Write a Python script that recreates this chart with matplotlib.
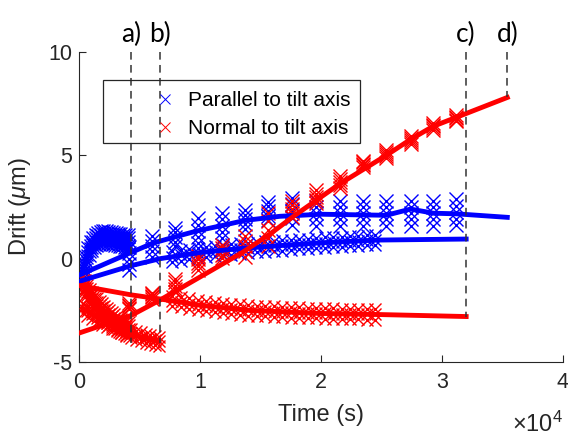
import matplotlib
matplotlib.use('Agg')
import matplotlib.pyplot as plt
import numpy as np
from matplotlib.lines import Line2D
from matplotlib.patches import Rectangle
from matplotlib.ticker import FuncFormatter

plt.rcParams['font.family'] = ['Liberation Sans', 'DejaVu Sans']
plt.rcParams['mathtext.fontset'] = 'custom'
plt.rcParams['mathtext.it'] = 'Liberation Sans:italic'
plt.rcParams['mathtext.rm'] = 'Liberation Sans'
plt.rcParams['axes.unicode_minus'] = False

# ---- run a: short dense run (blue cluster near 0..4300 s) ----
ta = [300, 500, 700, 900, 1100, 1300, 1500, 1700, 1900, 2100,
      2300, 2500, 2700, 2900, 3100, 3300, 3500, 3700, 3900, 4100]
blue_a = [-0.6, -0.2, 0.2, 0.5, 0.7, 0.85, 0.95, 1.0, 1.05, 1.05,
          1.05, 1.0, 1.0, 0.95, 0.95, 0.9, 0.9, 0.85, 0.85, 0.85]
red_a = [-1.2, -1.4, -1.6, -1.8, -1.95, -2.1, -2.25, -2.4, -2.5, -2.65,
         -2.75, -2.85, -2.95, -3.05, -3.1, -3.2, -3.25, -3.3, -3.35, -3.4]

# ---- run b: red drifting down until 6700 s ----
tb = [300, 700, 1100, 1500, 1900, 2300, 2700, 3100, 3500,
      3900, 4300, 4700, 5100, 5500, 5900, 6300, 6600]
red_b = [-2.4, -2.55, -2.7, -2.85, -3.0, -3.1, -3.2, -3.3, -3.4,
         -3.5, -3.6, -3.7, -3.78, -3.85, -3.9, -3.95, -4.0]

# ---- run c: long dense run (crosses to 24500 s, fit to 32000 s) ----
tc = [7700, 8400, 9100, 9800, 10500, 11200, 11900, 12600, 13300, 14000,
      14700, 15400, 16100, 16800, 17500, 18200, 18900, 19600, 20300, 21000,
      21700, 22400, 23100, 23800, 24500]
blue_c = [0.1, 0.16, 0.22, 0.28, 0.33, 0.37, 0.41, 0.45, 0.49, 0.53,
          0.56, 0.59, 0.62, 0.64, 0.67, 0.7, 0.72, 0.75, 0.78, 0.8,
          0.82, 0.85, 0.87, 0.89, 0.9]
red_c = [-2.05, -2.1, -2.17, -2.23, -2.29, -2.34, -2.38, -2.42, -2.46, -2.5,
         -2.52, -2.54, -2.56, -2.58, -2.6, -2.61, -2.62, -2.64, -2.65, -2.66,
         -2.67, -2.68, -2.69, -2.7, -2.7]
tc_fit = [0, 4300, 6700, 10000, 14100, 20000, 24600, 32000]
blue_c_fit = [-1.1, -0.34, 0.0, 0.3, 0.53, 0.77, 0.9, 0.95]
red_c_fit = [-1.3, -1.75, -1.95, -2.25, -2.5, -2.65, -2.7, -2.8]

# ---- run d: sparse columns every ~1950 s, fit to 35400 s ----
td = [4100, 6000, 7900, 9800, 11800, 13700, 15600, 17600, 19600,
      21600, 23500, 25400, 27400, 29300, 31200]
blue_d = [0.0, 0.6, 1.05, 1.35, 1.6, 1.9, 2.3, 2.3, 2.2,
          2.2, 2.2, 2.2, 2.2, 2.2, 2.25]
blue_d_half = [0.55, 0.5, 0.45, 0.6, 0.62, 0.45, 0.45, 0.65, 0.6,
               0.6, 0.6, 0.6, 0.6, 0.6, 0.62]
red_d = [-2.3, -1.8, -1.3, -0.2, 0.35, 0.6, 1.4, 2.4, 3.0,
         3.7, 4.6, 5.05, 5.75, 6.4, 6.8]
red_d_half = [0.15, 0.15, 0.3, 0.35, 0.3, 0.5, 0.8, 0.4, 0.3,
              0.3, 0.15, 0.2, 0.2, 0.15, 0.15]
td_fit = [0, 4300, 6100, 7900, 9800, 11800, 13700, 16600, 20000,
          25400, 27400, 29300, 31200, 35400]
blue_d_fit = [-0.8, 0.3, 0.75, 1.05, 1.35, 1.6, 1.85, 2.05, 2.15,
              2.1, 2.4, 2.2, 2.17, 2.0]
td_rfit = [0, 4300, 6700, 11000, 13500, 15800, 17850, 21500, 25400,
           27350, 29250, 31240, 35400]
red_d_fit = [-3.6, -2.75, -2.0, -0.55, 0.3, 1.2, 2.1, 3.6, 5.0,
             5.75, 6.4, 6.85, 7.8]

# event markers
ev_t = [4300, 6700, 32000, 35400]
ev_bottom = [-4.1, -4.1, -2.8, 7.8]
ev_lab = ['a)', 'b)', 'c)', 'd)']

fig = plt.figure(figsize=(5.68, 4.37), dpi=100)
ax = fig.add_axes([0.1391, 0.1716, 0.852, 0.7094])

ms = 9
mew = 1.0


def columns(t, y, half, frac, color, size=ms):
    for ti, yi, hi in zip(t, y, half):
        ys = [yi + hi * f for f in frac]
        ax.plot([ti] * len(ys), ys, 'x', color=color, ms=size, mew=mew,
                zorder=2)


frac5 = [-1, -0.5, 0, 0.5, 1]
frac3 = [-1, 0, 1]

# run a
columns(ta, blue_a, [0.35] * len(ta), frac5, 'b')
ax.plot(ta, blue_a, '-', color='b', lw=3.5, zorder=3)
columns(ta, red_a, [0.35] * len(ta), frac5, 'r')
ax.plot(ta, red_a, '-', color='r', lw=3.5, zorder=3)
# run b
columns(tb, red_b, [0.22] * len(tb), frac3, 'r')
ax.plot(tb, red_b, '-', color='r', lw=3.5, zorder=3)
# run c
columns(tc, blue_c, [0.25] * len(tc), frac3, 'b')
columns(tc, red_c, [0.25] * len(tc), frac3, 'r')
ax.plot(tc_fit, blue_c_fit, '-', color='b', lw=3.5, zorder=3)
ax.plot(tc_fit, red_c_fit, '-', color='r', lw=3.5, zorder=3)
# run d
columns(td, blue_d, blue_d_half, frac5, 'b', size=10)
columns(td, red_d, red_d_half, frac5, 'r', size=10)
ax.plot(td_fit, blue_d_fit, '-', color='b', lw=3.5, zorder=3)
ax.plot(td_rfit, red_d_fit, '-', color='r', lw=3.5, zorder=3)

# dashed event lines and labels
for t, yb, lab in zip(ev_t, ev_bottom, ev_lab):
    ax.plot([t, t], [10, yb], '--', color='#333333', lw=1.1,
            dashes=(5, 3.5), zorder=5, clip_on=False)
    ax.text(t, 10.87, lab, ha='center', va='center', fontsize=19,
            family=['Lato', 'DejaVu Sans'], clip_on=False)

ax.set_xlim(0, 40000)
ax.set_ylim(-5, 10)
ax.set_xticks([0, 10000, 20000, 30000, 40000])
ax.set_yticks([-5, 0, 5, 10])
ax.xaxis.set_major_formatter(FuncFormatter(lambda v, p: '%d' % round(v / 1e4)))

for s in ['top', 'right']:
    ax.spines[s].set_visible(False)
for s in ['left', 'bottom']:
    ax.spines[s].set_color('#262626')
    ax.spines[s].set_linewidth(0.8)
ax.tick_params(direction='in', length=5, width=0.8, color='#262626',
               labelcolor='#262626', labelsize=15.5)
ax.tick_params(axis='x', pad=7)
ax.tick_params(axis='y', pad=5)

ax.set_xlabel('Time (s)', fontsize=17, color='#262626')
ax.xaxis.set_label_coords(0.5, -0.135)
ax.set_ylabel(r'Drift ($\mu$m)', fontsize=17, color='#262626')
ax.yaxis.set_label_coords(-0.095, 0.5)
ax.text(1.0, -0.2, r'$\times$10$^4$', transform=ax.transAxes, ha='right',
        va='center', fontsize=17, color='#262626')

# legend
ax.add_patch(Rectangle((0.05, 0.706), 0.53, 0.204, transform=ax.transAxes,
                       fill=False, ec='#262626', lw=0.9, zorder=6,
                       clip_on=False))
handles = [Line2D([], [], color='b', marker='x', ls='none', ms=7, mew=0.7),
           Line2D([], [], color='r', marker='x', ls='none', ms=7, mew=0.7)]
leg = ax.legend(handles, ['Parallel to tilt axis', 'Normal to tilt axis'],
                loc='upper left', bbox_to_anchor=(0.148, 0.874),
                frameon=False, fontsize=15, borderpad=0, borderaxespad=0,
                handlelength=1.4, handletextpad=0.4, labelspacing=0.45)
for txt in leg.get_texts():
    txt.set_color('black')

fig.savefig('out.png', dpi=100)
